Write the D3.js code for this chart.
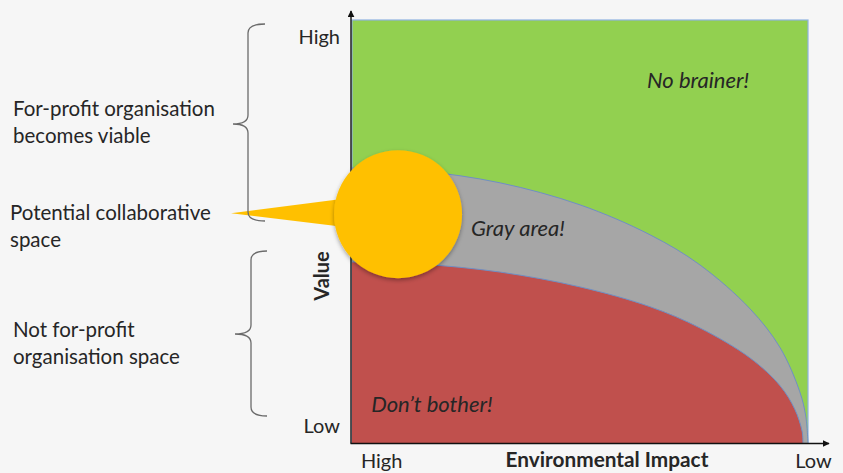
<!DOCTYPE html>
<html>
<head>
<meta charset="utf-8">
<script src="https://cdn.jsdelivr.net/npm/d3@7"></script>
<style>
  body { margin: 0; background: #f6f6f6; }
  svg { display: block; font-family: Lato, "Open Sans", sans-serif; }
</style>
</head>
<body>
<svg id="chart" width="843" height="473"></svg>
<script>
// Environmental impact runs from 0 (high impact) to 100 (low impact);
// value runs from 0 (low) to 100 (high).
const grayImpact   = [0, 15, 32.5, 50, 65.4, 76.3, 87.3, 93.9, 98.2, 99.5, 100];
const grayBoundary = [65.0, 64.3, 61.5, 56.3, 49.2, 42.1, 31.7, 22.5, 12.1, 6.4, 0];
const redImpact    = [0, 15, 32.5, 50, 65.4, 76.3, 87.3, 93.9, 97.1, 98.7, 98.9];
const redBoundary  = [42.8, 42.3, 40.4, 36.9, 32.2, 27.2, 20.1, 13.5, 8.0, 2.8, 0];

const yTickValues = [4, 96];
const yTickLabels = ["Low", "High"];
const xTickValues = [6.4, 101.1];
const xTickLabels = ["High", "Low"];

const zoneLabels = [
  { text: "No brainer!",   impact: 64.7, value: 83.9 },
  { text: "Gray area!",    impact: 26.1, value: 48.9 },
  { text: "Don\u2019t bother!", impact: 4.2, value: 7.3 }
];

const sideNotes = [
  { lines: ["For-profit organisation", "becomes viable"], x: 13, y: 116 },
  { lines: ["Potential collaborative", "space"], x: 10, y: 220 },
  { lines: ["Not for-profit", "organisation space"], x: 13, y: 337 }
];

// collaborative-space bubble, centred in data units
const bubble = { impact: 10.1, value: 54.1, r: 64 };

const W = 843, H = 473;
const svg = d3.select("#chart");

const x = d3.scaleLinear().domain([0, 100]).range([352, 808]);
const y = d3.scaleLinear().domain([0, 100]).range([443, 20]);

const textColor = "#262626";
const fontFamily = "Lato, 'Open Sans', sans-serif";

const defs = svg.append("defs");
defs.append("marker")
  .attr("id", "arrow")
  .attr("viewBox", "0 0 10 10")
  .attr("refX", 9).attr("refY", 5)
  .attr("markerWidth", 5).attr("markerHeight", 5)
  .attr("orient", "auto")
  .append("path").attr("d", "M0,0 L10,5 L0,10 z").attr("fill", "#111");

const shadow = defs.append("filter").attr("id", "shadow")
  .attr("x", "-20%").attr("y", "-20%").attr("width", "140%").attr("height", "140%");
shadow.append("feDropShadow")
  .attr("dx", 0).attr("dy", 2).attr("stdDeviation", 2)
  .attr("flood-color", "#000").attr("flood-opacity", 0.35);

svg.append("rect").attr("width", W).attr("height", H).attr("fill", "#f6f6f6");

// green background zone
svg.append("rect")
  .attr("x", x(0)).attr("y", y(100))
  .attr("width", x(100) - x(0)).attr("height", y(0) - y(100))
  .attr("fill", "#92d050")
  .attr("stroke", "#8fb2df").attr("stroke-width", 1.2);

const curve = d3.curveCatmullRom.alpha(0.5);

function zone(impacts, values, fill) {
  const pts = impacts.map((d, i) => [d, values[i]]);
  svg.append("path")
    .datum(pts)
    .attr("d", d3.area().x(d => x(d[0])).y0(y(0)).y1(d => y(d[1])).curve(curve))
    .attr("fill", fill);
  svg.append("path")
    .datum(pts)
    .attr("d", d3.line().x(d => x(d[0])).y(d => y(d[1])).curve(curve))
    .attr("fill", "none")
    .attr("stroke", "#6f8fc4").attr("stroke-width", 1);
}
zone(grayImpact, grayBoundary, "#a6a6a6");
zone(redImpact, redBoundary, "#c0504d");

// zone labels
svg.append("g").selectAll("text")
  .data(zoneLabels).join("text")
  .attr("x", d => x(d.impact)).attr("y", d => y(d.value))
  .attr("font-size", 22).attr("font-style", "italic")
  .attr("fill", textColor)
  .text(d => d.text);

// axes
svg.append("line")
  .attr("x1", 351).attr("y1", y(0) + 0.5).attr("x2", 351).attr("y2", 11)
  .attr("stroke", "#111").attr("stroke-width", 1.4)
  .attr("marker-end", "url(#arrow)");
svg.append("line")
  .attr("x1", 350.5).attr("y1", y(0) + 0.5).attr("x2", 829).attr("y2", y(0) + 0.5)
  .attr("stroke", "#111").attr("stroke-width", 1.4)
  .attr("marker-end", "url(#arrow)");

const yAxis = svg.append("g")
  .attr("transform", "translate(351,0)")
  .call(d3.axisLeft(y).tickValues(yTickValues)
    .tickFormat((d, i) => yTickLabels[i]).tickSize(0).tickPadding(11));
yAxis.select(".domain").remove();
yAxis.selectAll("text").attr("font-size", 20).attr("font-family", fontFamily).attr("fill", textColor);

const xAxis = svg.append("g")
  .attr("transform", `translate(0,${y(0)})`)
  .call(d3.axisBottom(x).tickValues(xTickValues)
    .tickFormat((d, i) => xTickLabels[i]).tickSize(0).tickPadding(11));
xAxis.select(".domain").remove();
xAxis.selectAll("text").attr("font-size", 20).attr("font-family", fontFamily).attr("fill", textColor);

svg.append("text")
  .attr("x", 607).attr("y", 467)
  .attr("text-anchor", "middle")
  .attr("font-size", 20.8).attr("font-weight", "bold")
  .attr("fill", textColor)
  .text("Environmental Impact");

svg.append("text")
  .attr("transform", "translate(329,276) rotate(-90)")
  .attr("text-anchor", "middle")
  .attr("font-size", 20).attr("font-weight", "bold")
  .attr("fill", textColor)
  .text("Value");

// callout wedge and bubble
const bx = x(bubble.impact), by = y(bubble.value);
svg.append("path")
  .attr("d", `M${bx - 167},${by - 1} L${bx - 35},${by - 18} L${bx - 35},${by + 15} Z`)
  .attr("fill", "#ffc000");
svg.append("circle")
  .attr("cx", bx).attr("cy", by).attr("r", bubble.r)
  .attr("fill", "#ffc000")
  .attr("filter", "url(#shadow)");

// curly braces
function brace(xs, yTop, yMid, yBot, xEnd, xTip) {
  const r = 9;
  return `M${xEnd},${yTop} Q${xs},${yTop} ${xs},${yTop + r}` +
    ` L${xs},${yMid - r} Q${xs},${yMid} ${xTip},${yMid}` +
    ` Q${xs},${yMid} ${xs},${yMid + r}` +
    ` L${xs},${yBot - r} Q${xs},${yBot} ${xEnd},${yBot}`;
}
svg.append("path")
  .attr("d", brace(248, 24, 124, 221, 265, 233))
  .attr("fill", "none").attr("stroke", "#6b6b6b").attr("stroke-width", 1.3);
svg.append("path")
  .attr("d", brace(251, 251, 334, 416, 267, 235))
  .attr("fill", "none").attr("stroke", "#6b6b6b").attr("stroke-width", 1.3);

// side notes
const notes = svg.append("g").selectAll("text")
  .data(sideNotes).join("text")
  .attr("x", d => d.x).attr("y", d => d.y)
  .attr("font-size", 20.5).attr("fill", textColor);
notes.selectAll("tspan")
  .data(d => d.lines.map((l, i) => ({ l, i, x: d.x })))
  .join("tspan")
  .attr("x", d => d.x)
  .attr("dy", d => d.i === 0 ? 0 : 26.5)
  .text(d => d.l);
</script>
</body>
</html>
